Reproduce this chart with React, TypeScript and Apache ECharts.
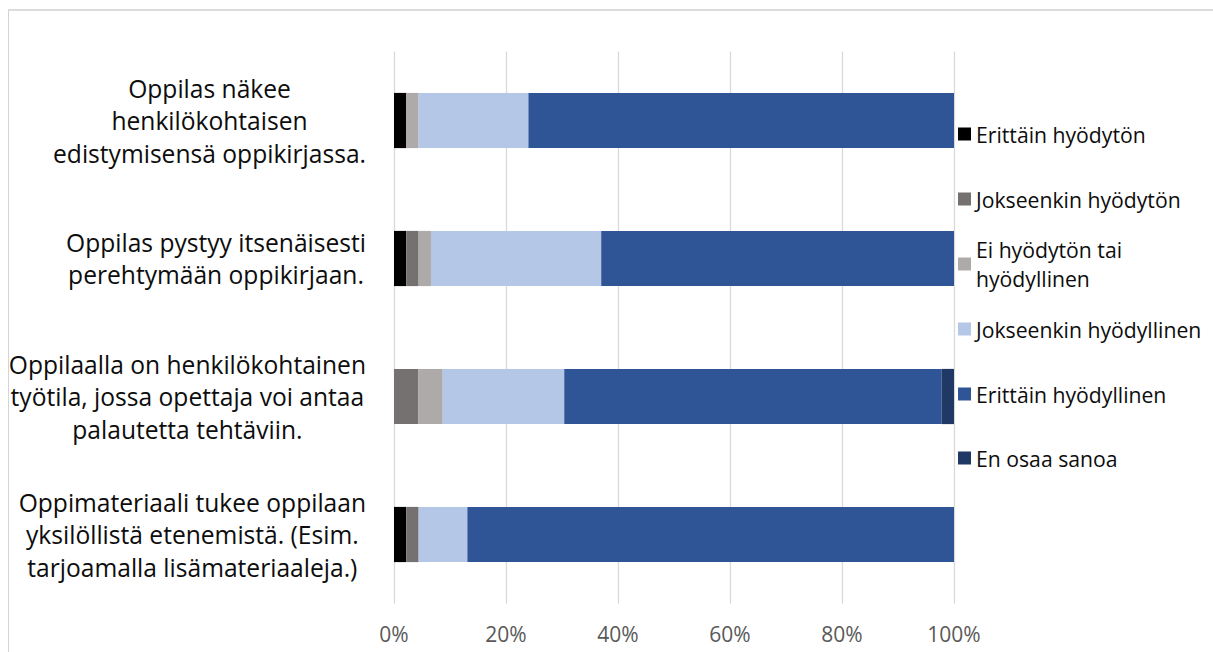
import React, { useEffect, useRef } from "react";
import * as echarts from "echarts";

const categories = [
  "Oppilas näkee\nhenkilökohtaisen\nedistymisensä oppikirjassa.",
  "Oppilas pystyy itsenäisesti\nperehtymään oppikirjaan.",
  "Oppilaalla on henkilökohtainen\ntyötila, jossa opettaja voi antaa\npalautetta tehtäviin.",
  "Oppimateriaali tukee oppilaan\nyksilöllistä etenemistä. (Esim.\ntarjoamalla lisämateriaaleja.)",
];

const seriesNames = [
  "Erittäin hyödytön",
  "Jokseenkin hyödytön",
  "Ei hyödytön tai hyödyllinen",
  "Jokseenkin hyödyllinen",
  "Erittäin hyödyllinen",
  "En osaa sanoa",
];

const erittainHyodyton = [2.2, 2.2, 0, 2.2];
const jokseenkinHyodyton = [0, 2.2, 4.3, 2.2];
const eiHyodytonTaiHyodyllinen = [2.2, 2.2, 4.4, 0];
const jokseenkinHyodyllinen = [19.6, 30.4, 21.7, 8.7];
const erittainHyodyllinen = [76.0, 63.0, 67.4, 86.9];
const enOsaaSanoa = [0, 0, 2.2, 0];

const seriesValues = [
  erittainHyodyton,
  jokseenkinHyodyton,
  eiHyodytonTaiHyodyllinen,
  jokseenkinHyodyllinen,
  erittainHyodyllinen,
  enOsaaSanoa,
];

const seriesColors = ["#000000", "#767171", "#AEAAAA", "#B4C7E7", "#2F5597", "#203864"];

const FONT = "'Open Sans', 'Noto Sans', sans-serif";

export default function App() {
  const ref = useRef<HTMLDivElement>(null);

  useEffect(() => {
    if (!ref.current) return;
    const chart = echarts.init(ref.current, null, { renderer: "svg" });

    const legendCenters = [134, 199, 264, 329, 394, 458];
    const LH = 29;
    const legends = seriesNames.map((name, i) => {
      const twoLine = name === "Ei hyödytön tai hyödyllinen";
      return {
        orient: "vertical",
        left: 958,
        top: twoLine ? legendCenters[i] - 1.5 * LH : legendCenters[i] - LH / 2,
        padding: 0,
        itemWidth: 13,
        itemHeight: 13,
        itemGap: 0,
        icon: "rect",
        selectedMode: false,
        formatter: (n: string) => (n === "Ei hyödytön tai hyödyllinen" ? "Ei hyödytön tai\nhyödyllinen" : n),
        textStyle: {
          fontFamily: FONT,
          fontSize: 21.2,
          color: "#0d0d0d",
          lineHeight: LH,
          padding: twoLine ? [LH, 0, 0, 0] : 0,
        },
        data: [name],
      };
    });

    const option = {
      animation: false,
      backgroundColor: "transparent",
      textStyle: { fontFamily: FONT },
      grid: { left: 394, right: 259, top: 51.5, bottom: 48.5, containLabel: false },
      legend: legends,
      xAxis: {
        type: "value",
        min: 0,
        max: 100,
        interval: 20,
        axisLine: { show: false },
        axisTick: { show: false },
        splitLine: { show: true, lineStyle: { color: "#d9d9d9", width: 1.3 } },
        axisLabel: {
          formatter: "{value}%",
          color: "#595959",
          fontSize: 21,
          fontFamily: FONT,
          margin: 20,
        },
      },
      yAxis: {
        type: "category",
        inverse: true,
        data: categories,
        axisLine: { show: false },
        axisTick: { show: false },
        axisLabel: {
          margin: 28,
          align: "right",
          verticalAlign: "middle",
          formatter: (v: string) =>
            v
              .split("\n")
              .map((l) => `{c|${l}}`)
              .join("\n"),
          rich: {
            c: {
              align: "center",
              fontSize: 24.6,
              lineHeight: 32.5,
              color: "#0d0d0d",
              fontFamily: FONT,
            },
          },
        },
      },
      series: seriesNames.map((name, i) => ({
        name,
        type: "bar",
        stack: "total",
        barCategoryGap: "60%",
        itemStyle: { color: seriesColors[i] },
        data: seriesValues[i],
      })),
    };

    chart.setOption(option as any);
    return () => chart.dispose();
  }, []);

  return (
    <div
      style={{
        position: "fixed",
        left: 0,
        top: 0,
        width: 1213,
        height: 652,
        background: "#ffffff",
        overflow: "hidden",
      }}
    >
      <div
        style={{
          position: "absolute",
          left: 8,
          top: 9,
          width: 1240,
          height: 700,
          borderTop: "2px solid #dcdcdc",
          borderLeft: "1px solid #d4d4d4",
        }}
      />
      <div ref={ref} style={{ position: "absolute", left: 0, top: 0, width: 1213, height: 652 }} />
    </div>
  );
}
